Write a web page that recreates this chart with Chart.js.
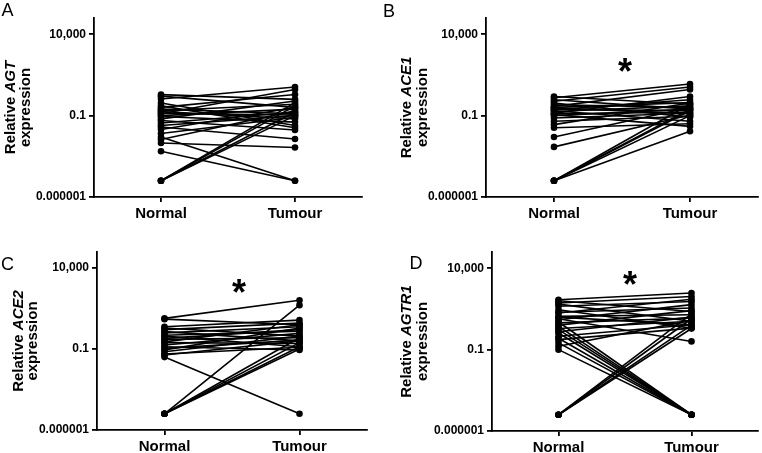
<!DOCTYPE html>
<html>
<head>
<meta charset="utf-8">
<script src="https://cdn.jsdelivr.net/npm/chart.js@4.4.1/dist/chart.umd.min.js"></script>
<style>
  html, body { margin: 0; padding: 0; background: #fff; }
  #wrap { position: relative; width: 762px; height: 453px; }
  canvas { position: absolute; }
</style>
</head>
<body>
<div id="wrap">
  <canvas id="cA" width="381" height="226" style="left:0;top:0"></canvas>
  <canvas id="cB" width="381" height="226" style="left:381px;top:0"></canvas>
  <canvas id="cC" width="381" height="227" style="left:0;top:226px"></canvas>
  <canvas id="cD" width="381" height="227" style="left:381px;top:226px"></canvas>
</div>
<script>
// categories and axis ticks
const groups = ['Normal', 'Tumour'];
const yTickValues = [0.000001, 0.1, 10000];
const yTickLabels = ['0.000001', '0.1', '10,000'];

// AGT (panel A) - paired samples, relative expression
const agtNormal = [1.95, 1.58, 1.05, 0.6, 0.32, 0.25, 0.2, 0.18, 0.13, 0.1, 0.089, 0.063, 0.05, 0.035,
  0.025, 0.02, 0.014, 0.0079, 0.0049, 0.0034, 0.0021, 0.00065, 0.00001, 0.00001, 0.00001, 0.00001, 0.4, 0.14];
const agtTumour = [1.0, 0.32, 5.8, 0.025, 2.0, 0.13, 0.5, 0.063, 4.0, 0.25, 0.04, 0.8, 0.013, 0.16,
  0.1, 0.0037, 0.32, 0.079, 0.00001, 0.2, 0.0011, 0.00001, 0.4, 0.16, 0.1, 0.63, 0.018, 0.11];

// ACE1 (panel B)
const ace1Normal = [1.5, 1.26, 0.95, 0.76, 0.6, 0.47, 0.37, 0.32, 0.3, 0.25, 0.23, 0.2, 0.18, 0.14,
  0.13, 0.115, 0.1, 0.072, 0.045, 0.028, 0.018, 0.0049, 0.0012, 0.00001, 0.00001, 0.00001, 0.00001, 0.00001];
const ace1Tumour = [0.5, 8.7, 0.25, 5.8, 0.079, 0.32, 4.0, 0.63, 0.13, 0.2, 0.95, 0.045, 0.4, 1.5,
  0.16, 0.022, 0.25, 0.14, 0.091, 0.6, 0.032, 0.32, 0.11, 0.5, 0.25, 0.2, 0.1, 0.011];

// ACE2 (panel C)
const ace2Normal = [7.9, 7.1, 2.4, 2.0, 1.6, 1.2, 1.0, 0.72, 0.63, 0.46, 0.4, 0.28, 0.25, 0.18,
  0.14, 0.11, 0.089, 0.068, 0.05, 0.043, 0.032, 0.00001, 0.00001, 0.00001, 0.00001, 0.00001];
const ace2Tumour = [105, 3.2, 6.2, 0.63, 4.0, 0.32, 2.4, 1.26, 0.14, 1.6, 0.5, 3.2, 0.22, 0.93,
  0.087, 0.36, 2.0, 0.63, 0.13, 0.32, 0.00001, 52, 0.5, 0.25, 0.14, 0.1];

// AGTR1 (panel D)
const agtr1Normal = [117, 100, 74, 63, 46, 28, 20, 18, 11, 10, 7.9, 6.9, 5.0, 4.4, 3.2, 2.7, 2.0,
  1.7, 1.26, 1.05, 0.66, 0.5, 0.41, 0.26, 0.16, 0.1, 0.00001, 0.00001, 0.00001, 0.00001];
const agtr1Tumour = [300, 22, 186, 5.5, 91, 2.1, 36, 126, 14, 3.4, 0.32, 58, 0.00001, 8.7, 25,
  0.00001, 5.5, 0.00001, 10, 0.00001, 3.4, 0.00001, 2.1, 0.00001, 6.3, 0.00001, 16, 7.9, 3.2, 2.0];

const FONT = '"Liberation Sans", Arial, sans-serif';

// per-panel layout (canvas pixels)
const panels = [
  { id: 'cA', letter: 'A', gene: 'AGT', normal: agtNormal, tumour: agtTumour,
    left: 94, right: 19, top: 18, bottom: 29, letterPos: [7.5, 11.5], titleX: [15, 29.5], star: null },
  { id: 'cB', letter: 'B', gene: 'ACE1', normal: ace1Normal, tumour: ace1Tumour,
    left: 105, right: 4, top: 18, bottom: 29, letterPos: [8, 12], titleX: [30, 46], star: [244, 65] },
  { id: 'cC', letter: 'C', gene: 'ACE2', normal: ace2Normal, tumour: ace2Tumour,
    left: 97, right: 14, top: 26, bottom: 23, letterPos: [7.5, 39], titleX: [22.5, 37], star: [239, 60] },
  { id: 'cD', letter: 'D', gene: 'AGTR1', normal: agtr1Normal, tumour: agtr1Tumour,
    left: 111, right: 0, top: 26, bottom: 22, letterPos: [35, 38], titleX: [30, 46], star: [249, 52] }
];

// panel letter, y title with italic gene name, significance star
const decorations = {
  id: 'decorations',
  afterDraw(chart, args, opts) {
    const p = opts.panel;
    const ctx = chart.ctx;
    const area = chart.chartArea;
    ctx.save();
    ctx.fillStyle = '#000';

    ctx.font = '18px ' + FONT;
    ctx.textAlign = 'center';
    ctx.textBaseline = 'middle';
    ctx.fillText(p.letter, p.letterPos[0], p.letterPos[1]);

    const cy = (area.top + area.bottom) / 2;
    const fs = 15;
    const regular = 'bold ' + fs + 'px ' + FONT;
    const italic = 'italic bold ' + fs + 'px ' + FONT;
    ctx.textBaseline = 'alphabetic';
    ctx.textAlign = 'left';

    // line 1
    ctx.save();
    ctx.translate(p.titleX[0], cy);
    ctx.rotate(-Math.PI / 2);
    ctx.font = regular;
    const w1 = ctx.measureText('Relative ').width;
    ctx.font = italic;
    const w2 = ctx.measureText(p.gene).width;
    let x0 = -(w1 + w2) / 2;
    ctx.font = regular;
    ctx.fillText('Relative ', x0, 0);
    ctx.font = italic;
    ctx.fillText(p.gene, x0 + w1, 0);
    ctx.restore();

    // line 2
    ctx.save();
    ctx.translate(p.titleX[1], cy);
    ctx.rotate(-Math.PI / 2);
    ctx.font = regular;
    ctx.textAlign = 'center';
    ctx.fillText('expression', 0, 0);
    ctx.restore();

    if (p.star) {
      ctx.font = 'bold 36px ' + FONT;
      ctx.textAlign = 'center';
      ctx.textBaseline = 'alphabetic';
      ctx.fillText('*', p.star[0], p.star[1] + 19);
    }
    ctx.restore();
  }
};

panels.forEach(function (p) {
  const ctx = document.getElementById(p.id).getContext('2d');
  const datasets = p.normal.map(function (n, i) {
    return {
      data: [n, p.tumour[i]],
      borderColor: '#000',
      backgroundColor: '#000',
      borderWidth: 1.6,
      pointRadius: 3.3,
      pointBorderWidth: 0,
      pointBackgroundColor: '#000',
      tension: 0
    };
  });

  new Chart(ctx, {
    type: 'line',
    data: { labels: groups, datasets: datasets },
    options: {
      responsive: false,
      animation: false,
      devicePixelRatio: 1,
      layout: { padding: { left: 0, right: p.right, top: p.top, bottom: 0 } },
      plugins: {
        legend: { display: false },
        tooltip: { enabled: false },
        decorations: { panel: p }
      },
      scales: {
        x: {
          type: 'category',
          offset: true,
          afterFit: function (s) { s.height = p.bottom; },
          grid: { offset: false, drawOnChartArea: false, drawTicks: true, tickLength: 5, color: '#000', lineWidth: 1.8 },
          border: { display: true, color: '#000', width: 1.8 },
          ticks: { color: '#000', padding: 3, maxRotation: 0, font: { family: FONT, size: 15, weight: 'bold' } }
        },
        y: {
          type: 'logarithmic',
          min: 0.000001,
          max: 100000,
          afterFit: function (s) { s.width = p.left; },
          afterBuildTicks: function (s) {
            s.ticks = yTickValues.map(function (v) { return { value: v }; });
          },
          grid: { drawOnChartArea: false, drawTicks: true, tickLength: 5, color: '#000', lineWidth: 1.8 },
          border: { display: true, color: '#000', width: 1.8 },
          ticks: {
            color: '#000',
            padding: 3,
            font: { family: FONT, size: 12, weight: 'bold' },
            callback: function (v, i) { return yTickLabels[i]; }
          }
        }
      }
    },
    plugins: [decorations]
  });
});
</script>
</body>
</html>
